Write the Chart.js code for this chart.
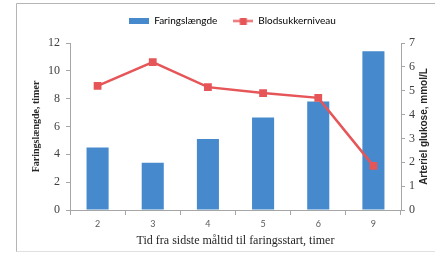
<!DOCTYPE html>
<html>
<head>
<meta charset="utf-8">
<script src="https://cdn.jsdelivr.net/npm/chart.js@4/dist/chart.umd.min.js"></script>
<style>
  html, body { margin: 0; padding: 0; background: #fff; }
  #wrap { width: 435px; height: 253px; position: relative; }
</style>
</head>
<body>
<div id="wrap"><canvas id="chart" width="435" height="253"></canvas></div>
<script>
// data
const categories = ['2', '3', '4', '5', '6', '9'];
const faringHours = [4.5, 3.4, 5.1, 6.65, 7.8, 11.4];
const bloodSugar = [5.2, 6.2, 5.15, 4.9, 4.7, 1.85];
const leftTicks = [0, 2, 4, 6, 8, 10, 12];
const rightTicks = [0, 1, 2, 3, 4, 5, 6, 7];

const barColor = '#4689cc';
const lineColor = '#e65557';
const axisColor = '#a6a6a6';

// small legend icons
function barIcon() {
    const c = document.createElement('canvas');
    c.width = 20; c.height = 6;
    const g = c.getContext('2d');
    g.fillStyle = barColor;
    g.fillRect(0, 0, 20, 6);
    return c;
}
function lineIcon() {
    const c = document.createElement('canvas');
    c.width = 20; c.height = 7;
    const g = c.getContext('2d');
    g.strokeStyle = lineColor;
    g.lineWidth = 2;
    g.beginPath(); g.moveTo(0, 3.5); g.lineTo(20, 3.5); g.stroke();
    g.fillStyle = lineColor;
    g.fillRect(6.5, 0, 7, 7);
    return c;
}

const framePlugin = {
    id: 'frame',
    beforeInit(chart) {
        // leave a little more room under the legend
        const lg = chart.legend;
        if (lg) {
            const fit = lg.fit.bind(lg);
            lg.fit = function() { fit(); this.height += 7; };
        }
    },
    beforeDraw(chart) {
        const ctx = chart.ctx;
        ctx.save();
        ctx.strokeStyle = '#b5b5b5';
        ctx.lineWidth = 1;
        ctx.beginPath();
        ctx.moveTo(16.5, 252);
        ctx.lineTo(16.5, 3.5);
        ctx.lineTo(435, 3.5);
        ctx.stroke();
        ctx.strokeStyle = '#e0e0e0';
        ctx.beginPath();
        ctx.moveTo(16.5, 251.5);
        ctx.lineTo(435, 251.5);
        ctx.stroke();
        ctx.restore();
    },
    afterDraw(chart) {
        // right axis title, reading bottom to top
        const a = chart.chartArea;
        const ctx = chart.ctx;
        ctx.save();
        ctx.translate(424, (a.top + a.bottom) / 2);
        ctx.rotate(-Math.PI / 2);
        ctx.font = 'bold 10px "Liberation Sans"';
        ctx.fillStyle = '#262626';
        ctx.textAlign = 'center';
        ctx.textBaseline = 'middle';
        ctx.fillText('Arteriel glukose, mmol/L', 0, 0);
        ctx.restore();
    }
};

const ctx = document.getElementById('chart').getContext('2d');
new Chart(ctx, {
    type: 'bar',
    data: {
        labels: categories,
        datasets: [{
            type: 'bar',
            label: 'Faringslængde',
            data: faringHours,
            backgroundColor: barColor,
            yAxisID: 'y',
            order: 2,
            barPercentage: 1,
            categoryPercentage: 0.4
        }, {
            type: 'line',
            label: 'Blodsukkerniveau',
            data: bloodSugar,
            borderColor: lineColor,
            backgroundColor: lineColor,
            borderWidth: 2.5,
            pointStyle: 'rect',
            pointRadius: 5.5,
            pointBorderWidth: 0,
            tension: 0,
            yAxisID: 'y2',
            order: 1
        }]
    },
    options: {
        responsive: false,
        animation: false,
        layout: { padding: { top: 0, left: 30, right: 0, bottom: 0 } },
        plugins: {
            tooltip: { enabled: false },
            legend: {
                display: true,
                position: 'top',
                labels: {
                    usePointStyle: true,
                    pointStyleWidth: 20,
                    color: '#595959',
                    font: { family: 'Lato', size: 10 },
                    padding: 16,
                    generateLabels(chart) {
                        return [
                            { text: 'Faringslængde', pointStyle: barIcon(), fillStyle: barColor, strokeStyle: barColor, lineWidth: 0, datasetIndex: 0, hidden: false },
                            { text: 'Blodsukkerniveau', pointStyle: lineIcon(), fillStyle: lineColor, strokeStyle: lineColor, lineWidth: 0, datasetIndex: 1, hidden: false }
                        ];
                    }
                }
            }
        },
        scales: {
            x: {
                offset: true,
                grid: { display: true, drawOnChartArea: false, offset: true, color: axisColor, tickLength: 5 },
                border: { color: axisColor },
                ticks: { color: '#595959', font: { family: 'Lato', size: 9 }, padding: 4 },
                title: {
                    display: true,
                    text: 'Tid fra sidste måltid til faringsstart, timer',
                    color: '#262626',
                    font: { family: 'Liberation Serif', size: 12 },
                    padding: { top: 2, bottom: 5 }
                },
                afterFit(scale) { scale.height = 43; }
            },
            y: {
                position: 'left',
                min: 0, max: 12,
                afterBuildTicks(scale) { scale.ticks = leftTicks.map(v => ({ value: v })); },
                grid: { drawOnChartArea: false, color: axisColor, tickLength: 4 },
                border: { color: axisColor },
                ticks: { color: '#404040', font: { family: 'Liberation Serif', size: 12 }, padding: 6 },
                title: {
                    display: true,
                    text: 'Faringslængde, timer',
                    color: '#262626',
                    font: { family: 'Liberation Serif', size: 10, weight: 'bold' },
                    padding: { top: 0, bottom: 0 }
                },
                afterFit(scale) { scale.width = 40; }
            },
            y2: {
                position: 'right',
                min: 0, max: 7,
                afterBuildTicks(scale) { scale.ticks = rightTicks.map(v => ({ value: v })); },
                grid: { drawOnChartArea: false, color: axisColor, tickLength: 4 },
                border: { color: axisColor },
                ticks: { color: '#404040', font: { family: 'Liberation Serif', size: 12 }, padding: 4 },
                afterFit(scale) { scale.width = 34; }
            }
        }
    },
    plugins: [framePlugin]
});
</script>
</body>
</html>
